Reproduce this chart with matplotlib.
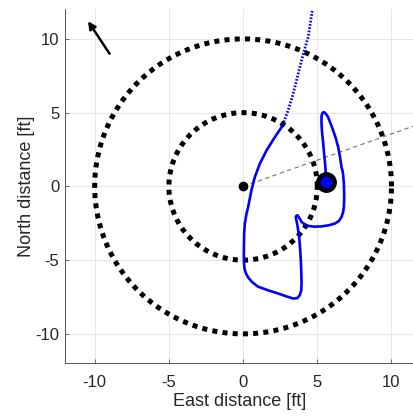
import numpy as np
import matplotlib
matplotlib.use("Agg")
import matplotlib.pyplot as plt

# ---- data ----
circle_radii = [5, 10]
origin_x, origin_y = 0.0, 0.0
target_x, target_y = 5.58, 0.29
ray_angle_deg = 19.6
ray_length = 16.0
arrow_tail = (-9.0, 9.0)
arrow_head = (-10.45, 11.2)

# dotted (earlier) part of trajectory
traj_dot_x = [4.66, 4.38, 4.05, 3.71, 3.37, 3.03, 2.70, 2.59]
traj_dot_y = [11.9, 10.1, 8.98, 7.62, 6.27, 5.14, 4.24, 4.01]

# solid part of trajectory
traj_x = [2.59, 2.14, 1.58, 1.13, 0.79, 0.56, 0.34, 0.23, 0.12, 0.07, 0.05, 0.06,
          0.10, 0.20, 0.36, 0.62, 1.01, 1.70, 2.36, 2.90, 3.37, 3.65, 3.82, 3.92, 3.94,
          3.92, 3.89, 3.84, 3.78, 3.71, 3.64, 3.58, 3.55, 3.60, 3.67, 3.80, 3.94,
          4.15, 4.38, 4.80, 5.29, 5.80, 6.18, 6.45, 6.63, 6.74, 6.79, 6.81, 6.81,
          6.79, 6.74, 6.70, 6.63, 6.53, 6.41, 6.25, 6.07, 5.90, 5.73, 5.58, 5.46,
          5.36, 5.29, 5.28, 5.30, 5.33, 5.40, 5.46, 5.52, 5.56, 5.58]
traj_y = [4.01, 3.34, 2.44, 1.54, 0.63, -0.27, -1.40, -1.85, -2.50, -3.20, -4.55, -5.20,
          -5.60, -5.92, -6.20, -6.50, -6.80, -7.05, -7.26, -7.45, -7.60, -7.58, -7.37, -7.05, -6.58,
          -5.80, -5.00, -4.20, -3.43, -2.95, -2.52, -2.25, -2.08, -1.98, -1.96, -2.15, -2.41,
          -2.58, -2.68, -2.73, -2.71, -2.63, -2.52, -2.35, -2.08, -1.75, -1.40, -0.95, -0.49,
          0.20, 0.80, 1.05, 1.31, 2.00, 2.66, 3.25, 3.79, 4.25, 4.69, 4.92, 5.03,
          5.00, 4.80, 4.40, 4.00, 3.56, 2.90, 2.21, 1.60, 1.08, 0.29]

x_ticks = [-10, -5, 0, 5, 10]
y_ticks = [-10, -5, 0, 5, 10]
x_label = "East distance [ft]"
y_label = "North distance [ft]"

# ---- figure ----
plt.rcParams['font.family'] = ['Liberation Sans', 'DejaVu Sans']
plt.rcParams['axes.unicode_minus'] = False
fig = plt.figure(figsize=(4.14, 4.16), dpi=100)
ax = fig.add_axes([65/414, 52.6/416, 349.5/414, 354/416])
ax.set_xlim(-12, 11.55)
ax.set_ylim(-12, 12.0)

ax.set_xticks(x_ticks)
ax.set_yticks(y_ticks)
ax.grid(True, color='#e6e6e6', linewidth=0.7)
ax.set_axisbelow(True)
for s in ['top', 'right']:
    ax.spines[s].set_visible(False)
for s in ['left', 'bottom']:
    ax.spines[s].set_color('#555555')
    ax.spines[s].set_linewidth(0.7)
ax.tick_params(direction='in', length=3, width=0.6, color='#555555',
               labelsize=12, labelcolor='#262626')
ax.tick_params(axis='y', pad=4)
ax.tick_params(axis='x', pad=8)

theta = np.linspace(0, 2*np.pi, 721)
for r in circle_radii:
    ax.plot(r*np.cos(theta), r*np.sin(theta), color='black', linewidth=3.6,
            linestyle=(0, (1, 1.05)), dash_capstyle='butt', zorder=2)

ang = np.deg2rad(ray_angle_deg)
ax.plot([origin_x, origin_x + ray_length*np.cos(ang)],
        [origin_y, origin_y + ray_length*np.sin(ang)],
        color='#777777', linewidth=0.8, linestyle=(0, (4, 3)), zorder=3)

ax.plot(traj_dot_x, traj_dot_y, color='#0000ff', linewidth=2.0,
        linestyle=(0, (0.6, 0.6)), zorder=4)
ax.plot(traj_x, traj_y, color='#0000ff', linewidth=1.9, zorder=4,
        solid_joinstyle='round', solid_capstyle='round')

ax.plot([origin_x], [origin_y], 'o', color='black', markersize=6, zorder=5)
ax.plot([target_x], [target_y], 'o', color='black', markersize=14, zorder=5)
ax.plot([target_x], [target_y], 'o', color='#0000ff', markersize=7.5, zorder=6)

ax.annotate('', xy=arrow_head, xytext=arrow_tail,
            arrowprops=dict(arrowstyle='-|>', color='black', lw=1.8,
                            mutation_scale=11, shrinkA=0, shrinkB=0))

ax.set_xlabel(x_label, fontsize=13, color='#262626', labelpad=2.5)
ax.set_ylabel(y_label, fontsize=13, color='#262626', labelpad=0)

fig.savefig('out.png', dpi=100)
